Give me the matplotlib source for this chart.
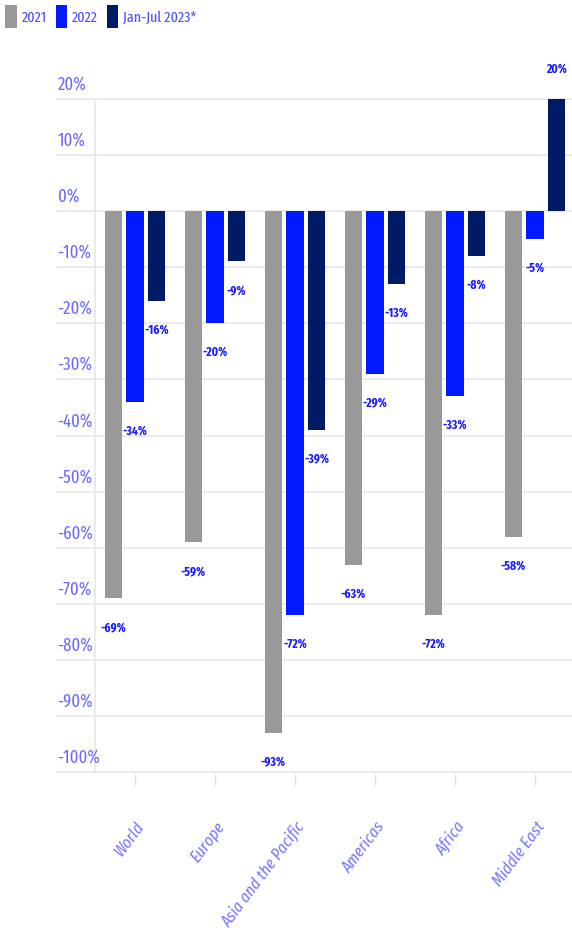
import matplotlib
matplotlib.use('Agg')
import matplotlib.pyplot as plt
import matplotlib.transforms as mtransforms
from matplotlib.patches import Patch
import numpy as np

plt.rcParams['font.family'] = ['Fira Sans Extra Condensed', 'DejaVu Sans']

# data
regions = ['World', 'Europe', 'Asia and the Pacific', 'Americas', 'Africa', 'Middle East']
series = ['2021', '2022', 'Jan-Jul 2023*']
vals_2021 = [-69, -59, -93, -63, -72, -58]
vals_2022 = [-34, -20, -72, -29, -33, -5]
vals_2023 = [-16, -9, -39, -13, -8, 20]
y_ticks = [20, 10, 0, -10, -20, -30, -40, -50, -60, -70, -80, -90, -100]

colors = ['#999999', '#0019ff', '#001a66']
tick_color = '#6b6bff'
label_color = '#1a1aff'
grid_color = '#ebebeb'

fig = plt.figure(figsize=(5.72, 9.35), dpi=100)
ax = fig.add_axes([56 / 572, 161 / 935, 516 / 572, 677 / 935])

x = np.arange(len(regions))
offsets = [-0.271, 0.0, 0.271]
width = 0.219
for vals, off, c in zip([vals_2021, vals_2022, vals_2023], offsets, colors):
    bars = ax.bar(x + off, vals, width=width, color=c, zorder=3)
    for b, v in zip(bars, vals):
        dy = 21 if v > 0 else -21
        ax.annotate(f'{v}%', (b.get_x() + b.get_width() / 2, v),
                    xytext=(0, dy), textcoords='offset points',
                    ha='center', va='center', fontsize=9, fontweight='bold',
                    color=label_color, annotation_clip=False)

ax.set_xlim(-0.9875, 5.4625)
ax.set_ylim(-100.3, 20.3)

for s in ax.spines.values():
    s.set_visible(False)

for t in y_ticks:
    ax.axhline(t, color=grid_color, lw=1.5, zorder=1)
ax.axvline(-0.5, ymin=0.0025, ymax=0.9975, color=grid_color, lw=1.5, zorder=1)

ax.set_yticks([])
off = mtransforms.ScaledTranslation(0, 4 / 72, fig.dpi_scale_trans)
for t in y_ticks:
    ax.text(0.003, t, f'{t}%', transform=ax.get_yaxis_transform() + off,
            ha='left', va='bottom', fontsize=13, color=tick_color)

ax.set_xticks(x)
ax.set_xticklabels(regions, rotation=53, ha='right', va='top',
                   rotation_mode='anchor', fontsize=12.5, style='italic',
                   color='#7a7aff')
ax.tick_params(axis='x', length=8, width=1, color='#e0e0e0', pad=24)

handles = [Patch(facecolor=c, edgecolor='none') for c in colors]
fig.legend(handles, series, loc='upper left', bbox_to_anchor=(0.0, 1.0),
           ncol=3, frameon=False, handlelength=0.75, handleheight=1.9,
           handletextpad=0.3, columnspacing=0.6, borderaxespad=0.05,
           borderpad=0.3, fontsize=11, labelcolor='#4d4dff')

fig.savefig('out.png', dpi=100)
